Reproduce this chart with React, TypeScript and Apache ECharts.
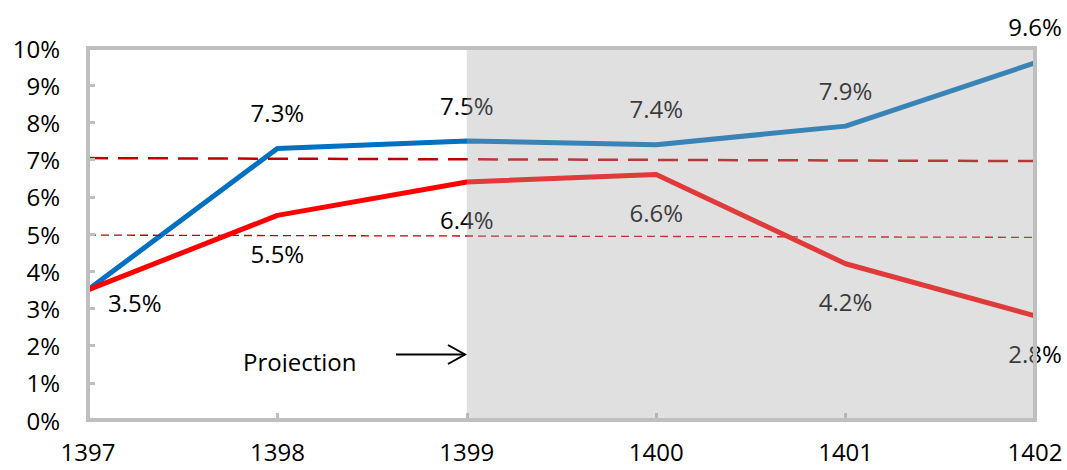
import React, { useEffect, useRef } from "react";
import * as echarts from "echarts";

const years = ["1397", "1398", "1399", "1400", "1401", "1402"];
const blueSeries = [3.5, 7.3, 7.5, 7.4, 7.9, 9.6];
const redSeries = [3.5, 5.5, 6.4, 6.6, 4.2, 2.8];
const longDashEnds = [7.04, 6.96];
const shortDashEnds = [4.97, 4.91];
const projectionStart = "1399";
const projectionEnd = "1402";
const projectionText = "Projection";

const FONT = "'Open Sans', sans-serif";

export default function App() {
  const ref = useRef<HTMLDivElement>(null);
  useEffect(() => {
    if (!ref.current) return;
    const chart = echarts.init(ref.current, undefined, { renderer: "svg" });
    const fmt = (v: number) => v.toFixed(1) + "%";
    const option: any = {
      animation: false,
      backgroundColor: "#fff",
      grid: {
        left: 88,
        right: 32,
        top: 48,
        bottom: 50,
        show: true,
        borderColor: "#BFBFBF",
        borderWidth: 4,
        backgroundColor: "transparent",
        z: 20,
      },
      xAxis: {
        type: "category",
        data: years,
        boundaryGap: false,
        axisLine: { lineStyle: { color: "#BFBFBF", width: 4 } },
        axisTick: { inside: true, length: 7, lineStyle: { color: "#BFBFBF", width: 3 } },
        axisLabel: { color: "#000", fontSize: 24, fontFamily: FONT, margin: 19 },
        splitLine: { show: false },
        z: 20,
      },
      yAxis: {
        type: "value",
        min: 0,
        max: 10,
        interval: 1,
        axisLine: { show: true, lineStyle: { color: "#BFBFBF", width: 4 } },
        axisTick: { show: true, inside: true, length: 7, lineStyle: { color: "#BFBFBF", width: 3 } },
        axisLabel: { color: "#000", fontSize: 24, fontFamily: FONT, margin: 28, formatter: "{value}%" },
        splitLine: { show: false },
        z: 20,
      },
      series: [
        {
          type: "line",
          data: [],
          z: 3,
          markLine: {
            silent: true,
            symbol: "none",
            label: { show: false },
            lineStyle: { color: "#C00000", width: 2.5, type: [20, 10] },
            data: [[{ coord: [years[0], longDashEnds[0]] }, { coord: [years[years.length - 1], longDashEnds[1]] }]],
          },
        },
        {
          type: "line",
          data: [],
          z: 3,
          markLine: {
            silent: true,
            symbol: "none",
            label: { show: false },
            lineStyle: { color: "#C00000", width: 1.3, type: [8, 5] },
            data: [[{ coord: [years[0], shortDashEnds[0]] }, { coord: [years[years.length - 1], shortDashEnds[1]] }]],
          },
        },
        {
          type: "line",
          z: 4,
          data: blueSeries.map((v, i) => ({
            value: v,
            label: { show: i !== 0 },
          })),
          symbol: "circle",
          symbolSize: 4,
          showSymbol: true,
          itemStyle: { color: "#0070C0" },
          lineStyle: { color: "#0070C0", width: 5 },
          label: {
            show: true,
            position: "top",
            distance: 22,
            color: "#000",
            fontSize: 24,
            fontFamily: FONT,
            formatter: (p: any) => fmt(p.value),
          },
        },
        {
          type: "line",
          z: 5,
          data: redSeries.map((v, i) =>
            i === 0
              ? { value: v, label: { position: "right", distance: 18, offset: [0, 13] } }
              : { value: v }
          ),
          symbol: "circle",
          symbolSize: 4,
          showSymbol: true,
          itemStyle: { color: "#FF0000" },
          lineStyle: { color: "#FF0000", width: 5 },
          label: {
            show: true,
            position: "bottom",
            distance: 24,
            color: "#000",
            fontSize: 24,
            fontFamily: FONT,
            formatter: (p: any) => fmt(p.value),
          },
        },
      ],
      graphic: [
        {
          id: "projText",
          type: "text",
          x: 243,
          y: 361,
          z: 30,
          style: { text: projectionText, fontSize: 24, fontFamily: FONT, fill: "#000", verticalAlign: "middle" },
        },
        {
          id: "projClip",
          type: "rect",
          z: 31,
          shape: { x: 236, y: 372, width: 140, height: 12 },
          style: { fill: "#fff" },
        },
        {
          id: "arrowLine",
          type: "line",
          z: 30,
          shape: { x1: 396, y1: 354.5, x2: 465, y2: 354.5 },
          style: { stroke: "#000", lineWidth: 2 },
        },
        {
          id: "arrowHead",
          type: "polyline",
          z: 30,
          shape: { points: [[448, 345], [465, 354.5], [448, 364]] },
          style: { stroke: "#000", lineWidth: 2, fill: null },
        },
      ],
    };
    chart.setOption(option);
    const tl = chart.convertToPixel({ gridIndex: 0 }, [projectionStart, 10]) as number[];
    const br = chart.convertToPixel({ gridIndex: 0 }, [projectionEnd, 0]) as number[];
    chart.setOption({
      graphic: [
        {
          id: "projShade",
          type: "rect",
          z: 100,
          silent: true,
          shape: { x: tl[0], y: tl[1] + 2, width: br[0] - tl[0] - 2, height: br[1] - tl[1] - 4 },
          style: { fill: "rgba(166,166,166,0.35)" },
        },
      ],
    });
    return () => chart.dispose();
  }, []);
  return <div ref={ref} style={{ width: 1067, height: 470, position: "absolute", left: 0, top: 0 }} />;
}
